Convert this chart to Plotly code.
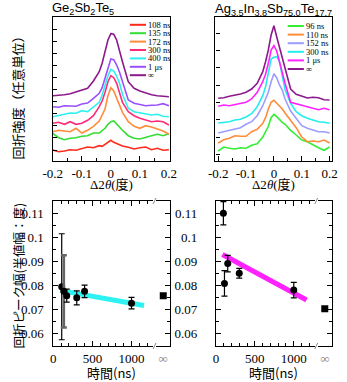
import plotly.graph_objects as go

# ---------------- data ----------------
theta = [-0.20, -0.18, -0.16, -0.14, -0.12, -0.10, -0.08, -0.06, -0.04, -0.03, -0.02, -0.01,
         0.00, 0.01, 0.02, 0.03, 0.04, 0.06, 0.08, 0.10, 0.12, 0.14, 0.16, 0.18, 0.20]

gst_labels = ["108 ns", "135 ns", "172 ns", "300 ns", "400 ns", "1 μs", "∞"]
gst_108 = [1.10, 0.93, 1.00, 1.13, 1.07, 1.27, 1.40, 1.33, 1.53, 1.47, 1.67, 1.80, 2.07, 1.87, 1.73, 1.60, 1.50, 1.37, 1.20, 1.33, 1.40, 1.13, 1.27, 1.07, 1.13]
gst_135 = [2.77, 2.33, 2.13, 2.27, 2.33, 2.47, 2.53, 2.80, 2.80, 3.00, 3.27, 3.67, 3.93, 4.00, 3.67, 3.40, 3.07, 2.53, 2.27, 2.20, 2.40, 2.53, 2.67, 2.53, 2.73]
gst_172 = [2.93, 3.07, 3.00, 2.93, 3.27, 2.80, 3.07, 3.47, 4.00, 4.53, 5.20, 6.53, 7.33, 7.00, 6.27, 5.53, 4.87, 3.93, 3.47, 3.27, 3.53, 3.40, 3.20, 3.00, 2.67]
gst_300 = [3.77, 3.87, 3.67, 3.93, 3.67, 3.77, 4.07, 4.53, 5.43, 6.00, 6.87, 7.93, 8.53, 8.33, 7.77, 6.87, 5.87, 4.93, 4.53, 4.27, 4.13, 3.93, 4.00, 3.93, 3.60]
gst_400 = [4.43, 4.53, 4.67, 4.80, 4.77, 5.03, 4.93, 5.40, 5.87, 6.60, 7.53, 8.53, 9.17, 9.00, 8.47, 7.77, 6.67, 5.27, 4.93, 4.80, 4.67, 4.60, 4.67, 4.47, 4.43]
gst_1us = [5.43, 5.37, 5.53, 5.50, 5.47, 5.70, 5.80, 6.27, 6.77, 7.33, 8.27, 9.43, 10.20, 10.13, 9.60, 8.87, 7.93, 6.10, 5.77, 5.67, 5.53, 5.57, 5.60, 5.73, 5.53]
gst_inf = [6.53, 6.57, 6.63, 6.73, 6.90, 7.03, 7.27, 8.00, 8.93, 9.77, 10.93, 12.10, 12.73, 12.67, 12.10, 11.13, 9.93, 7.93, 7.27, 7.00, 6.80, 6.63, 6.53, 6.47, 6.43]
gst_curves = [gst_108, gst_135, gst_172, gst_300, gst_400, gst_1us, gst_inf]
gst_colors = ["#ff2a1a", "#33dd33", "#ff8c3a", "#ff2a78", "#2ff0f0", "#9a50ff", "#8c1a8c"]

aist_labels = ["96 ns", "110 ns", "152 ns", "300 ns", "1 μs", "∞"]
aist_96 = [1.00, 1.40, 1.27, 1.20, 1.33, 1.27, 1.57, 1.73, 2.40, 2.87, 3.47, 4.33, 4.67, 4.43, 4.13, 3.87, 3.67, 3.07, 2.60, 2.10, 1.93, 1.60, 1.33, 1.07, 1.40]
aist_110 = [1.80, 2.13, 2.27, 2.53, 2.47, 2.47, 2.93, 3.17, 3.77, 4.33, 5.20, 5.87, 6.07, 5.77, 5.53, 5.20, 4.80, 4.10, 3.33, 2.40, 1.93, 2.00, 1.93, 2.10, 1.80]
aist_152 = [2.80, 2.93, 3.07, 3.20, 3.33, 3.67, 3.93, 4.53, 5.53, 6.20, 6.87, 7.93, 8.73, 8.33, 7.60, 7.10, 6.20, 5.00, 4.27, 3.53, 3.27, 3.10, 2.93, 2.93, 2.80]
aist_300 = [3.80, 3.87, 3.93, 4.10, 4.17, 4.40, 4.73, 5.43, 6.53, 7.43, 8.87, 10.20, 10.37, 10.43, 9.93, 8.60, 7.13, 5.77, 4.93, 4.53, 4.27, 4.10, 3.93, 3.87, 3.77]
aist_1us = [5.47, 5.60, 5.53, 5.63, 5.73, 5.87, 6.20, 6.87, 7.93, 8.67, 9.77, 11.10, 11.53, 11.00, 9.93, 8.77, 7.77, 5.87, 5.73, 5.53, 5.43, 5.27, 5.13, 5.27, 5.13]
aist_inf = [6.27, 6.33, 6.47, 6.57, 6.70, 6.87, 7.20, 7.77, 8.93, 9.93, 11.10, 12.60, 13.53, 12.43, 11.43, 10.27, 9.27, 7.20, 6.67, 6.47, 6.30, 6.37, 6.33, 6.13, 6.10]
aist_curves = [aist_96, aist_110, aist_152, aist_300, aist_1us, aist_inf]
aist_colors = ["#33ee33", "#ff8c3a", "#9c9cff", "#22eeee", "#ff22ff", "#8c1a8c"]

theta_ticks = [-0.2, -0.1, 0.0, 0.1, 0.2]
theta_ticktext = ["-0.2", "-0.1", "0", "0.1", "0.2"]

gst_t = [108, 135, 172, 300, 400, 1000]
gst_w = [0.0794, 0.0775, 0.0757, 0.0748, 0.0775, 0.0726]
gst_err = [0.0220, 0.0150, 0.0027, 0.0029, 0.0026, 0.0024]
gst_err_color = ["black", "#666666", "black", "black", "black", "black"]
gst_w_inf = [0.0757]
gst_err_inf = [0.0009]
gst_fit_t = [96, 1160]
gst_fit_w = [0.0778, 0.0716]

aist_t = [96, 110, 152, 300, 1000]
aist_w = [0.1099, 0.0808, 0.0890, 0.0850, 0.0780]
aist_err = [0.0048, 0.0053, 0.0034, 0.0020, 0.0032]
aist_w_inf = [0.0703]
aist_err_inf = [0.0008]
aist_fit_t = [84, 1164]
aist_fit_w = [0.0928, 0.0739]

# ---------------- layout helpers ----------------
W, H = 347, 382
def fx(p): return p / W
def fy(p): return 1 - p / H

SERIF = "Liberation Serif, Times New Roman, serif"
CJK = "Noto Sans CJK JP, sans-serif"
SANS = "Liberation Sans, Arial, sans-serif"

fig = go.Figure()

# top spectra
for vals, col in zip(gst_curves, gst_colors):
    fig.add_trace(go.Scatter(x=theta, y=vals, mode="lines", line=dict(color=col, width=1.6),
                             xaxis="x", yaxis="y", showlegend=False, hoverinfo="skip"))
for vals, col in zip(aist_curves, aist_colors):
    fig.add_trace(go.Scatter(x=theta, y=vals, mode="lines", line=dict(color=col, width=1.6),
                             xaxis="x2", yaxis="y2", showlegend=False, hoverinfo="skip"))

# bottom: fits first
fig.add_trace(go.Scatter(x=gst_fit_t, y=gst_fit_w, mode="lines", line=dict(color="#2ef2f2", width=5),
                         xaxis="x3", yaxis="y3", showlegend=False))
fig.add_trace(go.Scatter(x=aist_fit_t, y=aist_fit_w, mode="lines", line=dict(color="#ff22ff", width=5),
                         xaxis="x5", yaxis="y5", showlegend=False))

for t, w, e, c in zip(gst_t, gst_w, gst_err, gst_err_color):
    thick = 2.6 if c != "black" else 1.2
    fig.add_trace(go.Scatter(x=[t], y=[w], mode="markers", marker=dict(color="black", size=7),
                             error_y=dict(type="data", array=[e], color=c, thickness=thick, width=3),
                             xaxis="x3", yaxis="y3", showlegend=False))
fig.add_trace(go.Scatter(x=aist_t, y=aist_w, mode="markers", marker=dict(color="black", size=7),
                         error_y=dict(type="data", array=aist_err, color="black", thickness=1.2, width=3),
                         xaxis="x5", yaxis="y5", showlegend=False))
fig.add_trace(go.Scatter(x=[0], y=gst_w_inf, mode="markers", marker=dict(color="black", size=7, symbol="square"),
                         error_y=dict(type="data", array=gst_err_inf, color="black", thickness=1.2, width=3),
                         xaxis="x4", yaxis="y4", showlegend=False))
fig.add_trace(go.Scatter(x=[0], y=aist_w_inf, mode="markers", marker=dict(color="black", size=7, symbol="square"),
                         error_y=dict(type="data", array=aist_err_inf, color="black", thickness=1.2, width=3),
                         xaxis="x6", yaxis="y6", showlegend=False))
# empty traces so the label-only overlay axes are built
fig.add_trace(go.Scatter(x=[], y=[], xaxis="x3", yaxis="y7", showlegend=False))
fig.add_trace(go.Scatter(x=[], y=[], xaxis="x5", yaxis="y8", showlegend=False))

common = dict(showgrid=False, zeroline=False, showline=True, linecolor="black", linewidth=1.3,
              ticks="inside", tickcolor="black", tickwidth=1,
              tickfont=dict(family=SERIF, size=13, color="black"))
minor_y = dict(dtick=0.005, ticks="inside", ticklen=3, tickcolor="black")
label_axis = dict(showgrid=False, zeroline=False, showline=False, ticks="outside",
                  tickcolor="rgba(0,0,0,0)", tick0=0.06, dtick=0.01,
                  tickfont=dict(family=SERIF, size=13, color="black"))

top_y0, top_y1 = fy(161), fy(17)
bot_y0, bot_y1 = fy(346), fy(201)
w_range = [0.0548, 0.115]

layout = dict(
    width=W, height=H, margin=dict(l=0, r=0, t=0, b=0),
    paper_bgcolor="white", plot_bgcolor="white", showlegend=False,
    xaxis=dict(common, domain=[fx(45), fx(168)], range=[-0.2, 0.203], anchor="y", mirror=True,
               tickmode="array", tickvals=theta_ticks, ticktext=theta_ticktext, ticklen=5,
               minor=dict(dtick=0.05, tick0=0, ticks="inside", ticklen=3, tickcolor="black")),
    yaxis=dict(common, domain=[top_y0, top_y1], range=[0, 14.4], anchor="x", mirror=True,
               showticklabels=False, tick0=1.1, dtick=1.21, ticklen=4),
    xaxis2=dict(common, domain=[fx(216), fx(339)], range=[-0.21, 0.21], anchor="y2", mirror=True,
                tickmode="array", tickvals=theta_ticks, ticktext=theta_ticktext, ticklen=5,
                minor=dict(dtick=0.05, tick0=0, ticks="inside", ticklen=3, tickcolor="black")),
    yaxis2=dict(common, domain=[top_y0, top_y1], range=[0, 14.4], anchor="x2", mirror=True,
                showticklabels=False, tick0=0.67, dtick=1.73, ticklen=4),
    xaxis3=dict(common, domain=[fx(45.5), fx(150)], range=[0, 1270], anchor="y3", mirror="ticks",
                dtick=500, ticklen=5, minor=dict(dtick=100, ticks="inside", ticklen=3, tickcolor="black")),
    yaxis3=dict(common, domain=[bot_y0, bot_y1], range=w_range, anchor="x3", showticklabels=False,
                tick0=0.06, dtick=0.01, ticklen=5, minor=minor_y),
    yaxis7=dict(label_axis, domain=[bot_y0, bot_y1], range=w_range, anchor="x3", overlaying="y3",
                side="left", ticklen=6),
    xaxis4=dict(common, domain=[fx(154), fx(168.3)], range=[-0.5, 0.5], anchor="y4", mirror=True,
                ticks="", tickvals=[0], ticktext=["∞"],
                tickfont=dict(family=SERIF, size=13, color="#888888")),
    yaxis4=dict(common, domain=[bot_y0, bot_y1], range=w_range, anchor="x4", side="right",
                showticklabels=False, tick0=0.06, dtick=0.01, ticklen=5, minor=minor_y),
    xaxis5=dict(common, domain=[fx(216.5), fx(320.5)], range=[0, 1270], anchor="y5", mirror="ticks",
                dtick=500, ticklen=5, minor=dict(dtick=100, ticks="inside", ticklen=3, tickcolor="black")),
    yaxis5=dict(common, domain=[bot_y0, bot_y1], range=w_range, anchor="x5", showticklabels=False,
                tick0=0.06, dtick=0.01, ticklen=5, minor=minor_y),
    yaxis8=dict(label_axis, domain=[bot_y0, bot_y1], range=w_range, anchor="x5", overlaying="y5",
                side="left", ticklen=15),
    xaxis6=dict(common, domain=[fx(323.5), fx(338.5)], range=[-0.5, 0.5], anchor="y6", mirror=True,
                ticks="", tickvals=[0], ticktext=["∞"],
                tickfont=dict(family=SERIF, size=13, color="#888888")),
    yaxis6=dict(common, domain=[bot_y0, bot_y1], range=w_range, anchor="x6", side="right",
                showticklabels=False, tick0=0.06, dtick=0.01, ticklen=5, minor=minor_y),
)
fig.update_layout(**layout)

ann = []
shapes = []

# titles
ann.append(dict(text="Ge<sub>2</sub>Sb<sub>2</sub>Te<sub>5</sub>", x=fx(42), y=fy(9),
                xanchor="left", yanchor="middle", font=dict(family=SANS, size=13, color="black")))
ann.append(dict(text="Ag<sub>3.5</sub>In<sub>3.8</sub>Sb<sub>75.0</sub>Te<sub>17.7</sub>", x=fx(277), y=fy(10),
                xanchor="center", yanchor="middle", font=dict(family=SANS, size=13, color="black")))

# axis titles
for cx in (107, 277):
    ann.append(dict(text="Δ2<i>θ</i>(度)", x=fx(cx), y=fy(184), xanchor="center", yanchor="middle",
                    font=dict(family=SERIF + ", " + CJK, size=13, color="black")))
    ann.append(dict(text="時間(ns)", x=fx(cx), y=fy(372), xanchor="center", yanchor="middle",
                    font=dict(family=CJK, size=13, color="black")))
ann.append(dict(text="回折強度（任意単位）", x=fx(8), y=fy(95), textangle=-90, xanchor="center", yanchor="middle",
                font=dict(family=CJK, size=13, color="black")))
ann.append(dict(text="回折ピーク幅(半値幅：度)", x=fx(8), y=fy(276), textangle=-90, xanchor="center", yanchor="middle",
                font=dict(family=CJK, size=12.5, color="black")))

# legends
def legend(labels, colors, x_line0, x_line1, x_text, y0, dy):
    for i, (lab, col) in enumerate(zip(labels, colors)):
        yy = y0 + i * dy
        shapes.append(dict(type="line", xref="paper", yref="paper", x0=fx(x_line0), x1=fx(x_line1),
                           y0=fy(yy), y1=fy(yy), line=dict(color=col, width=2)))
        ann.append(dict(text=lab, x=fx(x_text), y=fy(yy), xanchor="left", yanchor="middle",
                        borderpad=0, font=dict(family=SERIF, size=8.5, color="black")))

legend(gst_labels, gst_colors, 126, 143, 144, 24.8, 8.4)
legend(aist_labels, aist_colors, 292, 309, 310, 26, 8.6)

# axis break slashes
for bx in (152, 322):
    for by in (201, 346):
        shapes.append(dict(type="line", xref="paper", yref="paper", x0=fx(bx - 1.5), x1=fx(bx + 1.5),
                           y0=fy(by + 3), y1=fy(by - 3), line=dict(color="#888888", width=1)))

for a in ann:
    a.update(xref="paper", yref="paper", showarrow=False)
fig.update_layout(annotations=ann, shapes=shapes)

fig.write_html("out.html")
